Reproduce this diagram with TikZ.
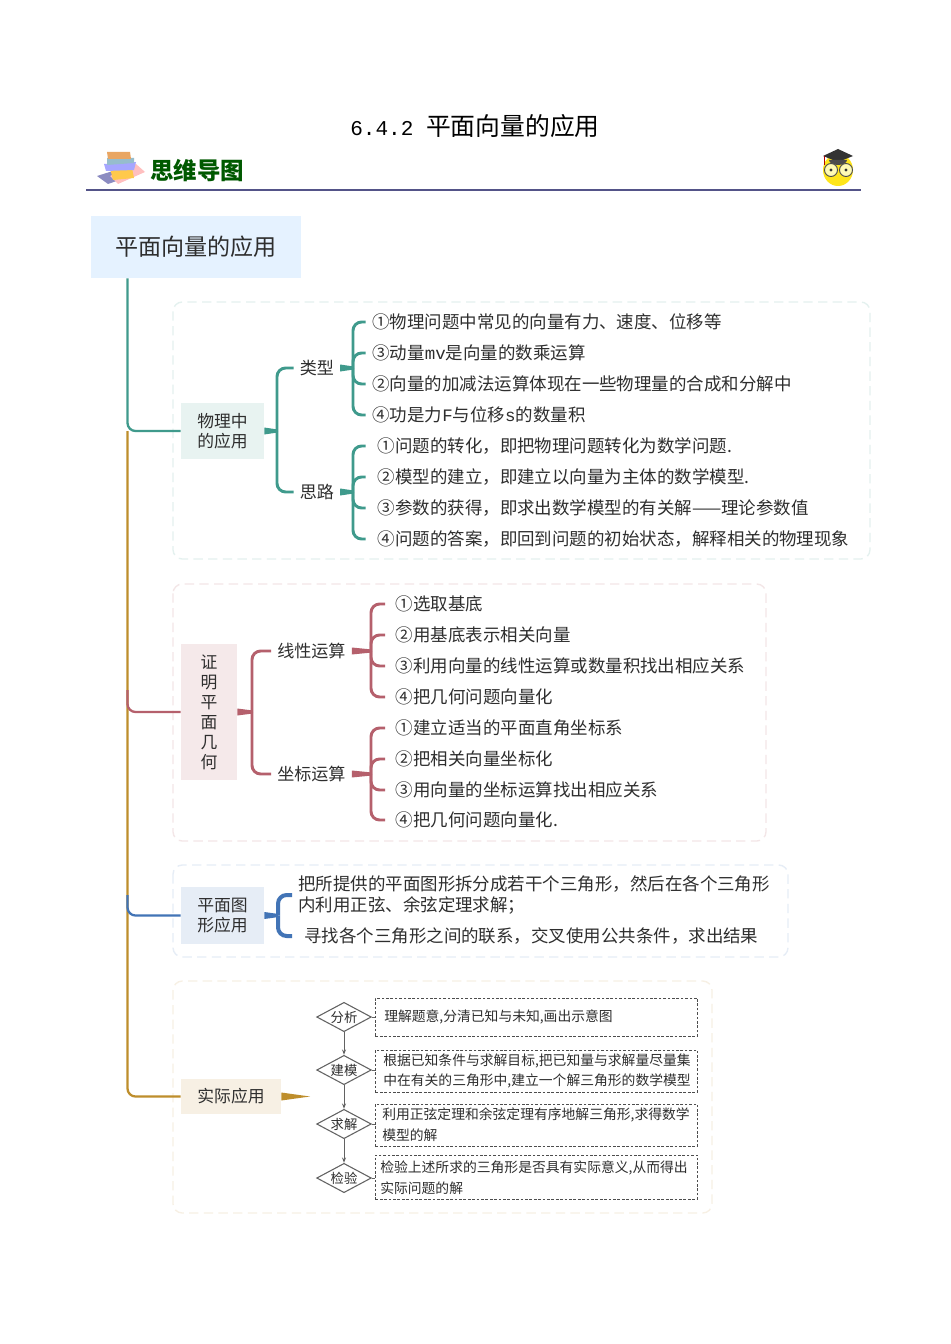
\documentclass[tikz,border=0pt]{standalone}
\usepackage{fontspec}
\setmainfont{Noto Sans CJK SC}
\newfontfamily\latfont{Liberation Mono}
\usetikzlibrary{shapes.geometric,calc,arrows.meta}
\definecolor{cteal}{HTML}{3F9A8C}
\definecolor{cred}{HTML}{B5606C}
\definecolor{cblue}{HTML}{4274B6}
\definecolor{cgold}{HTML}{BE8E2C}
\definecolor{ink}{HTML}{2E2E2E}
\newcommand{\lat}[1]{{\latfont #1}}
\tikzset{
  x=0.75pt,y=-0.75pt,
  panel/.style={dashed,dash pattern=on 7pt off 4pt,line width=1pt,rounded corners=7pt},
  catbox/.style={text=ink,align=center,inner sep=0pt,font=\fontsize{12.6}{15}\selectfont},
  lab/.style={text=ink,anchor=west,inner ysep=0pt,inner xsep=4.5pt,font=\fontsize{12.8}{15}\selectfont},
  item/.style={text=ink,anchor=west,inner ysep=0pt,inner xsep=#1,font=\fontsize{13.1}{15}\selectfont},
  item/.default=5pt,
  limb/.style={line width=2.2pt,rounded corners=6.5pt},
  trunk/.style={line width=1.7pt,rounded corners=6pt},
  dia/.style={diamond,draw=ink!75,line width=.8pt,aspect=2,minimum width=41pt,minimum height=22pt,inner sep=0pt,text=ink,font=\fontsize{10}{12}\selectfont},
  dbox/.style={draw=ink!85,dashed,dash pattern=on 2pt off 1.3pt,line width=.7pt,minimum width=241.5pt,anchor=west,text=ink,inner sep=0pt},
  dtxt/.style={text=ink,anchor=west,inner sep=0pt,align=left,font=\fontsize{10.35}{15.6}\selectfont},
  flow/.style={draw=ink!75,line width=.7pt,-{Stealth[length=4pt,width=3pt]}},
}
\newcommand{\stem}[3]{\fill[#1] ($(#2)+(0,3.5)$) -- ($(#3)+(0,1.6)$) -- ($(#3)-(0,1.6)$) -- ($(#2)-(0,3.5)$) -- cycle;}
\begin{document}
\begin{tikzpicture}
\useasboundingbox (0,0) rectangle (950,1344);
\fill[white] (0,0) rectangle (950,1344);
% title
\node[text=black,inner sep=0pt,font=\fontsize{18.6}{22}\selectfont] (title) at (475,126) {{\latfont\fontsize{15.8}{22}\selectfont 6.4.2 }平面向量的应用};
% header
\node[text=black!0!green!35!black,inner sep=0pt,font=\fontsize{17.6}{20}\bfseries\selectfont] (mind) at (197,171) {思维导图};
\draw[line width=1.5pt,color=black!40!blue!35!gray] (86,190.5) -- (861,190.5);
% books icon
\fill[blue!30!gray!70] (97,176)--(116,170)--(128,177)--(108,184)--cycle;
\fill[red!25!white] (118,184)--(145,172)--(136,164)--(110,176)--cycle;
\fill[orange!60!yellow!70] (110,168)--(132,168)--(134,178)--(113,180)--cycle;
\fill[blue!35!white] (104,164)--(136,162)--(134,170)--(106,171)--cycle;
\fill[cyan!40!gray!70] (107,158)--(134,158)--(134,163)--(107,165)--cycle;
\fill[orange!50!brown!70] (107,152)--(130,152)--(131,159)--(108,159)--cycle;
% owl icon
\fill[yellow!85!orange!90] (838,170) ellipse (15 and 16);
\fill[black!80] (838,149)--(853,156)--(838,162)--(823,156)--cycle;
\fill[black!70] (829,160) arc (180:360:9 and -5)--cycle;
\draw[red!70!black,line width=.6pt] (824,156)--(824,165);
\draw[black!70,line width=.7pt,fill=yellow!30] (831,170) circle (6.5);
\draw[black!70,line width=.7pt,fill=yellow!30] (846,170) circle (6.5);
\fill[black!80] (831,170) circle (1.6) (846,170) circle (1.6);
% panels
\draw[panel,color=cteal!14] (173,302) rectangle (870,559);
\draw[panel,color=cred!16] (173,584) rectangle (766,841);
\draw[panel,color=cblue!13] (173,865) rectangle (788,957);
\draw[panel,color=cgold!13] (173,981) rectangle (712,1213);
% main boxes
\node[fill=blue!50!cyan!10,inner sep=0pt,minimum width=157.5pt,minimum height=46.5pt,text=ink,font=\fontsize{17.3}{20}\selectfont] (main) at (196,247) {平面向量的应用};
\node[catbox,fill=cteal!12,minimum width=62.25pt,minimum height=42pt] (b1) at (222.5,431) {物理中\\的应用};
\node[catbox,fill=cred!14,minimum width=42pt,minimum height=102pt] (b2) at (209,712) {证\\明\\平\\面\\几\\何};
\node[catbox,fill=cblue!13,minimum width=62.25pt,minimum height=42.75pt] (b3) at (222.5,915.5) {平面图\\形应用};
\node[catbox,fill=cgold!13,minimum width=75pt,minimum height=26pt] (b4) at (231,1096.5) {实际应用};
% trunk
\coordinate (t0) at (main.south -| 127.5,0);
\coordinate (t1) at (127.5,400);
\coordinate (t2) at (127.5,431);
\coordinate (t3) at (127.5,690);
\coordinate (t4) at (127.5,895);
\draw[trunk,cgold] (t2) |- (b4.west);
\draw[trunk,cteal] (t0) |- (b1.west);
\draw[trunk,cred] (t3) |- (b2.west);
\draw[trunk,cblue] (t4) |- (b3.west);
% branch 1
\node[lab] (lx) at (293.5,368) {类型};
\node[lab] (sl) at (293.5,492) {思路};
\node[item] (a1) at (365.5,322) {①物理问题中常见的向量有力、速度、位移等};
\node[item] (a2) at (365.5,353) {③动量\lat{mv}是向量的数乘运算};
\node[item] (a3) at (365.5,384) {②向量的加减法运算体现在一些物理量的合成和分解中};
\node[item] (a4) at (365.5,415) {④功是力\lat{F}与位移\lat{s}的数量积};
\node[item=9pt] (c1) at (365.5,446) {①问题的转化，即把物理问题转化为数学问题.};
\node[item=9pt] (c2) at (365.5,477) {②模型的建立，即建立以向量为主体的数学模型.};
\node[item=9pt] (c3) at (365.5,508) {③参数的获得，即求出数学模型的有关解——理论参数值};
\node[item=9pt] (c4) at (365.5,539) {④问题的答案，即回到问题的初始状态，解释相关的物理现象};
\coordinate (s1) at (277,431);
\coordinate (s2) at (353,368);
\coordinate (s3) at (353,492);
\stem{cteal}{b1.east}{s1}
\foreach \c in {lx,sl} \draw[limb,cteal] (s1) |- (\c.west);
\stem{cteal}{lx.east}{s2}
\foreach \c in {a1,a2,a3,a4} \draw[limb,cteal] (s2) |- (\c.west);
\stem{cteal}{sl.east}{s3}
\foreach \c in {c1,c2,c3,c4} \draw[limb,cteal] (s3) |- (\c.west);
% branch 2
\node[lab] (xx) at (271,651) {线性运算};
\node[lab] (zb) at (271,774) {坐标运算};
\node[item=8pt] (d1) at (385,604) {①选取基底};
\node[item=8pt] (d2) at (385,635) {②用基底表示相关向量};
\node[item=8pt] (d3) at (385,666) {③利用向量的线性运算或数量积找出相应关系};
\node[item=8pt] (d4) at (385,697) {④把几何问题向量化};
\node[item=8pt] (e1) at (385,728) {①建立适当的平面直角坐标系};
\node[item=8pt] (e2) at (385,759) {②把相关向量坐标化};
\node[item=8pt] (e3) at (385,790) {③用向量的坐标运算找出相应关系};
\node[item=8pt] (e4) at (385,820) {④把几何问题向量化.};
\coordinate (s4) at (252,712);
\coordinate (s5) at (371,651);
\coordinate (s6) at (371,774);
\stem{cred}{b2.east}{s4}
\foreach \c in {xx,zb} \draw[limb,cred] (s4) |- (\c.west);
\stem{cred}{xx.east}{s5}
\foreach \c in {d1,d2,d3,d4} \draw[limb,cred] (s5) |- (\c.west);
\stem{cred}{zb.east}{s6}
\foreach \c in {e1,e2,e3,e4} \draw[limb,cred] (s6) |- (\c.west);
% branch 3
\node[item=4.5pt,align=left,font=\fontsize{13.1}{15.4}\selectfont] (f1) at (292,895) {把所提供的平面图形拆分成若干个三角形，然后在各个三角形\\内利用正弦、余弦定理求解；};
\node[item=9pt] (f2) at (292,936) {寻找各个三角形之间的联系，交叉使用公共条件，求出结果};
\coordinate (s7) at (278,915.5);
\stem{cblue}{b3.east}{s7}
\foreach \c in {f1,f2} \draw[limb,cblue,line width=3pt] (s7) |- (\c.west);
% branch 4
\coordinate (tip) at (310,1096.5);
\fill[cgold] ($(b4.east)+(0,-4)$) -- (tip) -- ($(b4.east)+(0,4)$) -- cycle;
\node[dia] (g1) at (344,1017) {分析};
\node[dia] (g2) at (344,1070) {建模};
\node[dia] (g3) at (344,1124) {求解};
\node[dia] (g4) at (344,1178) {检验};
\node[dbox,minimum height=28.5pt] (h1) at (375,1017) {};
\node[dbox,minimum height=31.5pt] (h2) at (375,1071) {};
\node[dbox,minimum height=31.5pt] (h3) at (375,1125) {};
\node[dbox,minimum height=33pt] (h4) at (375,1177) {};
\node[dtxt] (i1) at (384,1017) {理解题意,分清已知与未知,画出示意图};
\node[dtxt] (i2) at (383,1071) {根据已知条件与求解目标,把已知量与求解量尽量集\\中在有关的三角形中,建立一个解三角形的数学模型};
\node[dtxt] (i3) at (382,1125) {利用正弦定理和余弦定理有序地解三角形,求得数学\\模型的解};
\node[dtxt] (i4) at (380,1178) {检验上述所求的三角形是否具有实际意义,从而得出\\实际问题的解};
\draw[flow] (g1) -- (g2);
\draw[flow] (g2) -- (g3);
\draw[flow] (g3) -- (g4);
\draw[draw=ink!75,line width=.7pt] (g1) -- (h1);
\draw[draw=ink!75,line width=.7pt] (g2.east) -- (g2.east -| h2.west);
\draw[draw=ink!75,line width=.7pt] (g3.east) -- (g3.east -| h3.west);
\draw[draw=ink!75,line width=.7pt] (g4.east) -- (g4.east -| h4.west);
\end{tikzpicture}
\end{document}
